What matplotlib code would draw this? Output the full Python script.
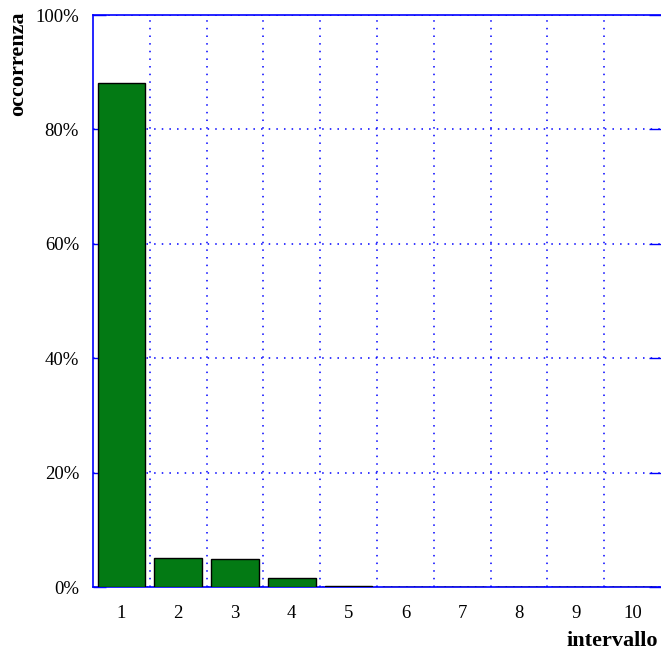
import matplotlib
matplotlib.use("Agg")
import matplotlib.pyplot as plt
import numpy as np

# histogram of interval occurrences (percent)
intervals = [1, 2, 3, 4, 5, 6, 7, 8, 9, 10]
occurrence = [88.1, 5.1, 4.95, 1.65, 0.25, 0.03, 0.02, 0.02, 0.01, 0.01]
y_ticks = [0, 20, 40, 60, 80, 100]
y_tick_labels = ["0%", "20%", "40%", "60%", "80%", "100%"]

plt.rcParams["font.family"] = ["Liberation Serif", "DejaVu Serif"]

fig = plt.figure(figsize=(6.61, 6.57), dpi=100)
ax = fig.add_axes([93 / 661, 1 - 587 / 657, 1 - 93 / 661, (587 - 15) / 657])

ax.bar(intervals, occurrence, width=0.84, color="#037a14",
       edgecolor="black", linewidth=1.0, zorder=3)

ax.set_xlim(0.5, 10.5)
ax.set_ylim(0, 100)

ax.set_xticks(intervals)
ax.set_xticklabels([str(i) for i in intervals], fontsize=13.5)
ax.set_xticks(np.arange(1.5, 10.5, 1.0), minor=True)
ax.tick_params(axis="x", which="both", length=0, pad=13)

ax.set_yticks(y_ticks)
ax.set_yticklabels(y_tick_labels, fontsize=13.5)
ax.tick_params(axis="y", which="major", direction="in", length=9,
               color="blue", width=1, pad=10, right=True)

ax.grid(axis="x", which="minor", color="blue", linestyle=(0, (1, 4)),
        linewidth=1.1, zorder=1)
ax.grid(axis="y", which="major", color="blue", linestyle=(0, (1, 4)),
        linewidth=1.1, zorder=1)
ax.grid(axis="x", which="major", visible=False)

for s in ["left", "top", "bottom"]:
    ax.spines[s].set_color("blue")
    ax.spines[s].set_linewidth(1.2)
ax.spines["right"].set_visible(False)

fig.text(18 / 661, 1 - 64 / 657, "occorrenza", rotation=90, fontsize=16,
         fontweight="bold", ha="center", va="center")
fig.text(612 / 661, 1 - 641 / 657, "intervallo", fontsize=16,
         fontweight="bold", ha="center", va="center")

fig.savefig("out.png", dpi=100)
